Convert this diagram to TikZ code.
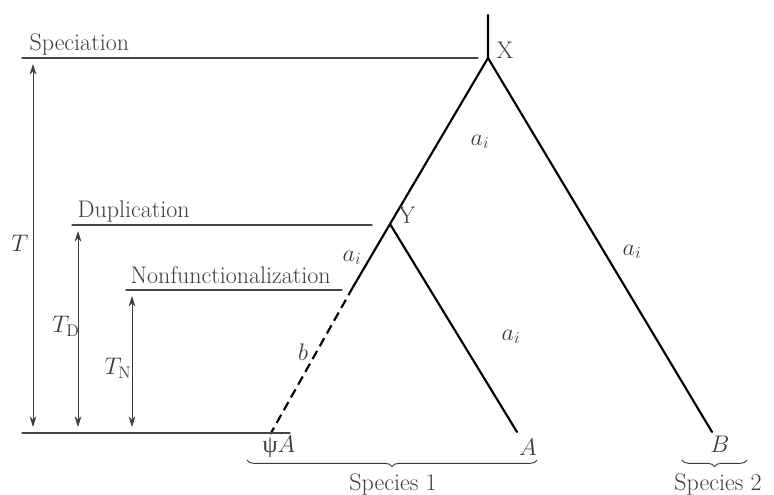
\RequirePackage{fix-cm}
\documentclass[tikz,border=0pt]{standalone}
\usepackage{fontspec}
\newfontfamily\grkfont{Liberation Serif}
\usetikzlibrary{arrows.meta,decorations.pathreplacing}
\definecolor{levelcol}{RGB}{78,62,80}
\definecolor{txtcol}{RGB}{60,60,60}
\begin{document}
\begin{tikzpicture}[x=0.75pt, y=-0.75pt, font=\fontsize{18}{21}\selectfont, line join=round, line cap=round, >={Stealth[length=8pt,width=5pt]},
	branch/.style={line width=1.6pt, black},
	level/.style={line width=0.9pt, levelcol},
	span/.style={<->, line width=0.6pt, txtcol},
	lab/.style={text=txtcol, inner sep=1pt},
	grp/.style={txtcol, line width=0.7pt, decorate, decoration={brace, mirror, amplitude=5pt}}]
	\useasboundingbox (0,0) rectangle (774,495);
	% tree
	\coordinate (root) at (488,15);
	\coordinate (X) at (488,58);
	\coordinate (Y) at (390,224);
	\coordinate (N) at (353,287);
	\coordinate (psiA) at (271,433);
	\coordinate (A) at (517,432);
	\coordinate (B) at (712,432);
	\draw[branch] (root)--(X)--(B);
	\draw[branch] (X)--(Y)--(A);
	\draw[branch] (Y)--(N);
	\draw[branch, dash pattern=on 7pt off 4pt, line cap=butt] (N)--(psiA);
	\fill (psiA) circle (1.6);
	\node[lab, right] (xlab) at (495,50) {X};
	\node[lab, right] (ylab) at (397,215) {Y};
	% levels
	\draw[level] (22,58) -- (478,58);
	\draw[level] (72,225) -- (372,225);
	\draw[level] (126,290) -- (342,290);
	\draw[level] (22,433) -- (290,433);
	\node[lab, anchor=base west] (spec) at (28,51) {Speciation};
	\node[lab, anchor=base west] (dup) at (76,218) {Duplication};
	\node[lab, anchor=base west] (nonf) at (129,283) {Nonfunctionalization};
	% times
	\draw[span] (33,64) -- (33,427);
	\draw[span] (78,231) -- (78,427);
	\draw[span] (132,296) -- (132,427);
	\node[lab] (T) at (20,243) {$T$};
	\node[lab] (TD) at (66,326) {$T_{\mathrm{D}}$};
	\node[lab] (TN) at (118,368) {$T_{\mathrm{N}}$};
	% branch labels
	\node[lab] (a1) at (480,142) {$a_i$};
	\node[lab] (a2) at (352,258) {$a_i$};
	\node[lab] (a3) at (511,337) {$a_i$};
	\node[lab] (a4) at (632,252) {$a_i$};
	\node[lab] (b) at (303,352) {$b$};
	% leaves
	\node[lab] (lpsi) at (279,447) {{\grkfont ψ}$A$};
	\node[lab] (lA) at (528,447) {$A$};
	\node[lab] (lB) at (720,444) {$B$};
	\draw[grp] (247,460) -- (537,460);
	\draw[grp] (682,460) -- (747,460);
	\node[lab] (sp1) at (393,484) {Species 1};
	\node[lab] (sp2) at (718,484) {Species 2};
\end{tikzpicture}
\end{document}
